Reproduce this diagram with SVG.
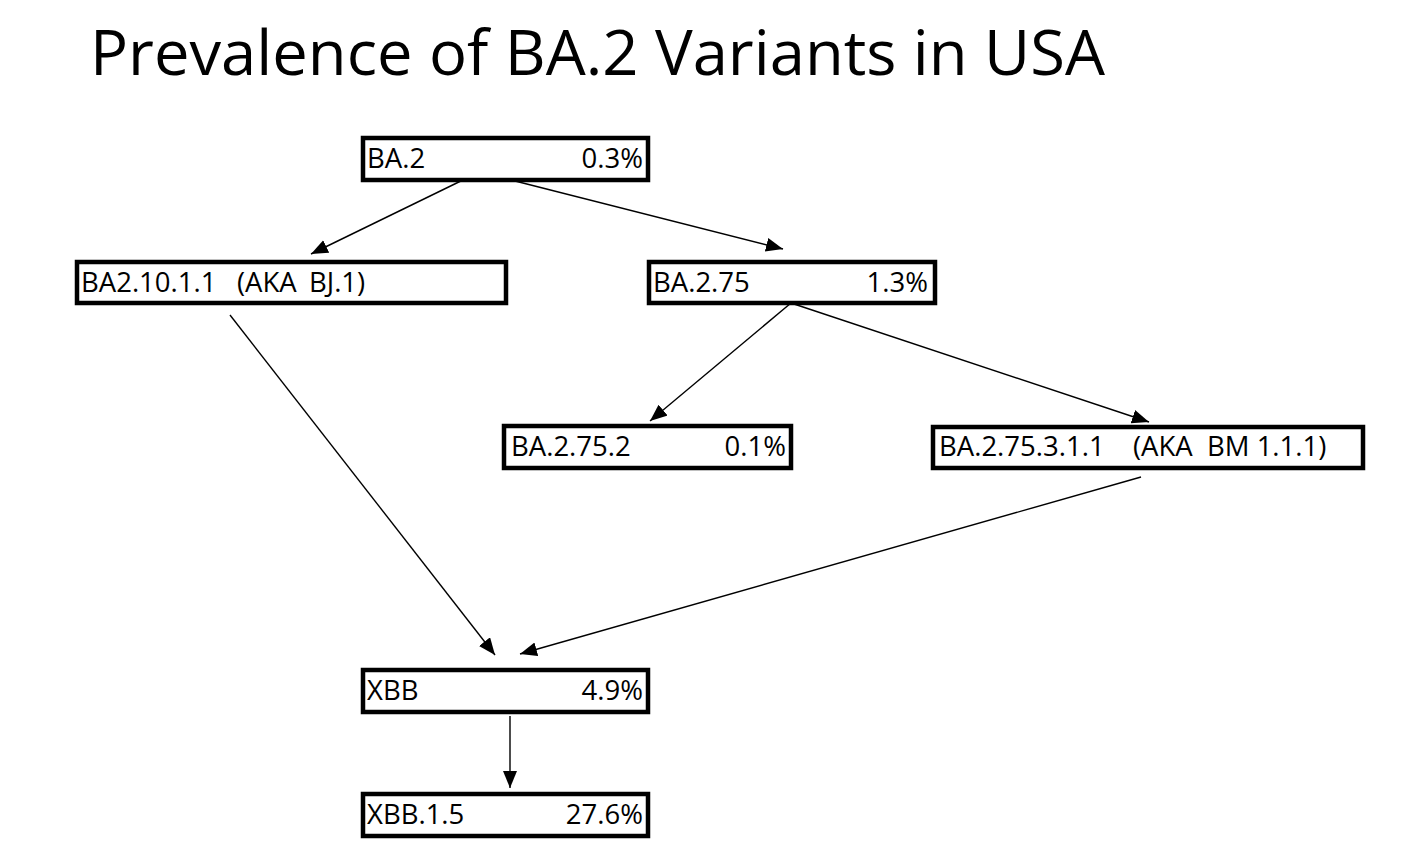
<svg xmlns="http://www.w3.org/2000/svg" width="1402" height="864" viewBox="0 0 1402 864">
<style>
.box{fill:#fff;stroke:#000;stroke-width:4.5}
.t{font-family:"Open Sans","Noto Sans","Liberation Sans",sans-serif;font-size:27.5px;fill:#000}
.r{text-anchor:end}
.title{font-family:"Open Sans","Noto Sans","Liberation Sans",sans-serif;font-size:63px;fill:#000}
.c{stroke:#000;stroke-width:1.4;fill:none;marker-end:url(#ah)}
</style>
<defs>
<marker id="ah" markerUnits="userSpaceOnUse" markerWidth="18" markerHeight="16" refX="17" refY="7" orient="auto">
<path d="M0,0 L17,7 L0,14 z" fill="#000"/>
</marker>
</defs>
<rect width="1402" height="864" fill="#fff"/>
<text class="title" x="90" y="75" textLength="1015" lengthAdjust="spacingAndGlyphs">Prevalence of BA.2 Variants in USA</text>
<g id="connectors">
<line class="c" x1="467" y1="178" x2="311" y2="254"/>
<line class="c" x1="515" y1="181" x2="783" y2="249"/>
<line class="c" x1="230" y1="315" x2="495" y2="655"/>
<line class="c" x1="791" y1="303" x2="650" y2="421"/>
<line class="c" x1="791" y1="303" x2="1149" y2="422"/>
<line class="c" x1="1141" y1="477" x2="520" y2="654"/>
<line class="c" x1="510" y1="716" x2="510" y2="788"/>
</g>
<g id="n-ba2">
<rect class="box" x="363" y="138" width="285" height="42"/>
<text class="t" x="367" y="168">BA.2</text>
<text class="t r" x="643" y="168">0.3%</text>
</g>
<g id="n-ba21011">
<rect class="box" x="77" y="262" width="429" height="41"/>
<text class="t" x="81" y="292">BA2.10.1.1</text>
<text class="t" x="237" y="292">(AKA</text>
<text class="t" x="309" y="292">BJ.1)</text>
</g>
<g id="n-ba275">
<rect class="box" x="649" y="262" width="286" height="41"/>
<text class="t" x="653" y="292">BA.2.75</text>
<text class="t r" x="928" y="292">1.3%</text>
</g>
<g id="n-ba2752">
<rect class="box" x="504" y="426" width="287" height="42"/>
<text class="t" x="511" y="456">BA.2.75.2</text>
<text class="t r" x="786" y="456">0.1%</text>
</g>
<g id="n-ba275311">
<rect class="box" x="933" y="427" width="430" height="41"/>
<text class="t" x="939" y="456">BA.2.75.3.1.1</text>
<text class="t" x="1133" y="456">(AKA</text>
<text class="t" x="1207" y="456">BM 1.1.1)</text>
</g>
<g id="n-xbb">
<rect class="box" x="363" y="670" width="285" height="42"/>
<text class="t" x="367" y="700">XBB</text>
<text class="t r" x="643" y="700">4.9%</text>
</g>
<g id="n-xbb15">
<rect class="box" x="363" y="794" width="285" height="42"/>
<text class="t" x="367" y="824">XBB.1.5</text>
<text class="t r" x="643" y="824">27.6%</text>
</g>
</svg>
